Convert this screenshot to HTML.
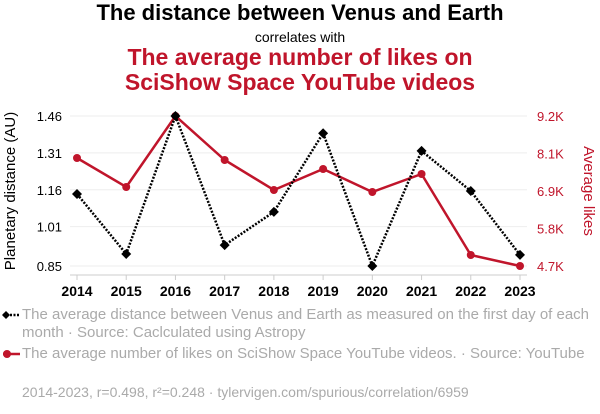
<!DOCTYPE html>
<html><head><meta charset="utf-8"><style>
body{margin:0;background:#fff;width:600px;height:414px;overflow:hidden;font-family:"Liberation Sans",Arial,sans-serif}
.t{position:absolute;left:0;width:600px;text-align:center}
.leg{position:absolute;left:22px;width:575px;font-size:15px;color:#aaa;line-height:18px}
</style></head><body>
<div class="t" style="top:0px;font-size:22px;font-weight:bold;color:#000">The distance between Venus and Earth</div>
<div class="t" style="top:29px;font-size:14px;color:#000">correlates with</div>
<div class="t" style="top:45px;font-size:23px;font-weight:bold;color:#c0152b;line-height:25px">The average number of likes on<br>SciShow Space YouTube videos</div>
<svg id="chart" width="600" height="414" style="position:absolute;left:0;top:0"></svg>
<div class="leg" style="top:306px">The average distance between Venus and Earth as measured on the first day of each month · Source: Caclculated using Astropy</div>
<div class="leg" style="top:345px">The average number of likes on SciShow Space YouTube videos. · Source: YouTube</div>
<div style="position:absolute;left:22px;top:384px;font-size:14px;color:#aaa">2014-2023, r=0.498, r²=0.248 · tylervigen.com/spurious/correlation/6959</div>
<script>
const years=[2014,2015,2016,2017,2018,2019,2020,2021,2022,2023];
const distance=[1.143,0.899,1.46,0.935,1.07,1.39,0.85,1.318,1.155,0.895];
const likes=[7.94,7.07,9.2,7.88,6.98,7.61,6.92,7.46,5.03,4.7];
const leftTicks=[0.85,1.01,1.16,1.31,1.46];
const rightTicks=[4.7,5.825,6.95,8.075,9.2];
const rightTickLabels=["4.7K","5.8K","6.9K","8.1K","9.2K"];
const NS="http://www.w3.org/2000/svg",svg=document.getElementById('chart');
const x0=77,x1=520,yTop=116,yBot=266;
const xs=i=>x0+(x1-x0)*i/(years.length-1);
const yl=v=>yBot-(v-0.85)/(1.46-0.85)*(yBot-yTop);
const yr=v=>yBot-(v-4.7)/(9.2-4.7)*(yBot-yTop);
function mk(t,a){const e=document.createElementNS(NS,t);for(const k in a)e.setAttribute(k,a[k]);svg.appendChild(e);return e;}
leftTicks.forEach(v=>{const g=mk('line',{x1:70,x2:527,y1:yl(v),y2:yl(v),stroke:'#eee','stroke-width':1});

const t=mk('text',{x:62,y:yl(v)+5,'text-anchor':'end','font-size':13,fill:'#000'});t.textContent=v.toFixed(2);
});
rightTicks.forEach((v,i)=>{const t=mk('text',{x:537,y:yr(v)+5,'font-size':13,fill:'#c0152b'});t.textContent=rightTickLabels[i];
});
const ax=mk('line',{x1:70,x2:527,y1:275,y2:275,stroke:'#ccc'});
years.forEach((y,i)=>{const tk=mk('line',{x1:xs(i),x2:xs(i),y1:275,y2:280,stroke:'#ccc'});
const t=mk('text',{x:xs(i),y:296,'text-anchor':'middle','font-size':14,'font-weight':'bold',fill:'#000'});t.textContent=y;
});
let t=mk('text',{x:0,y:0,'text-anchor':'middle','font-size':15,fill:'#000',transform:`translate(15,191) rotate(-90)`});t.textContent='Planetary distance (AU)';

t=mk('text',{x:0,y:0,'text-anchor':'middle','font-size':15,fill:'#c0152b',transform:`translate(584,191) rotate(90)`});t.textContent='Average likes';

const lp=mk('polyline',{points:likes.map((v,i)=>xs(i)+','+yr(v)).join(' '),fill:'none',stroke:'#c0152b','stroke-width':2.5});

likes.forEach((v,i)=>{const c=mk('circle',{cx:xs(i),cy:yr(v),r:4,fill:'#c0152b'});});
const dp=mk('polyline',{points:distance.map((v,i)=>xs(i)+','+yl(v)).join(' '),fill:'none',stroke:'#000','stroke-width':2.5,'stroke-dasharray':'2,1.5'});

distance.forEach((v,i)=>{const X=xs(i),Y=yl(v);const p=mk('polygon',{points:`${X},${Y-5} ${X+5},${Y} ${X},${Y+5} ${X-5},${Y}`,fill:'#000'});});
const l1=mk('line',{x1:3,x2:20,y1:315,y2:315,stroke:'#000','stroke-width':2.5,'stroke-dasharray':'2,1.5'});
const d1=mk('polygon',{points:'6,311 10,315 6,319 2,315',fill:'#000'});
const l2=mk('line',{x1:3,x2:20,y1:354,y2:354,stroke:'#c0152b','stroke-width':2.5});
const c2=mk('circle',{cx:7,cy:354,r:4,fill:'#c0152b'});
</script>
</body></html>
